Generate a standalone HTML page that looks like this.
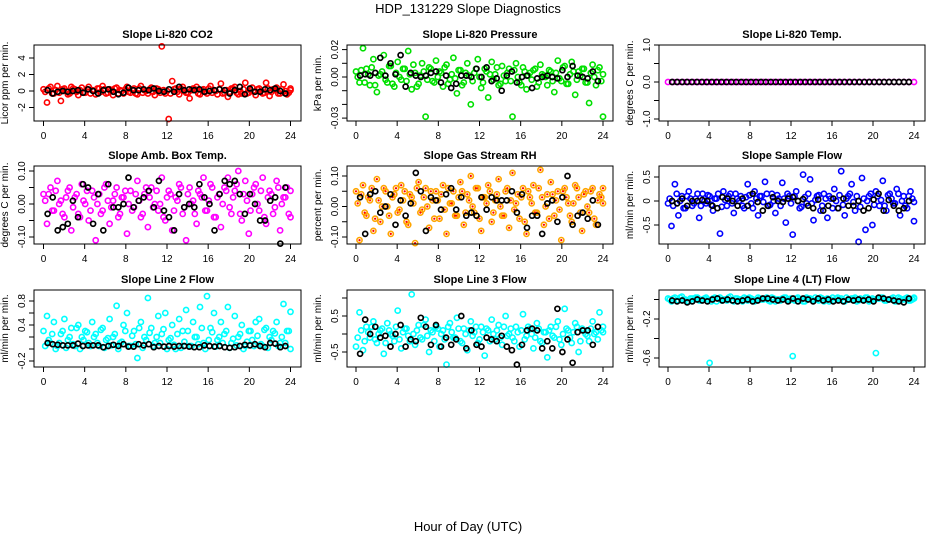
<!DOCTYPE html>
<html><head><meta charset="utf-8"><style>
html,body{margin:0;padding:0;background:#fff;}
svg{display:block;font-family:"Liberation Sans",Arial,sans-serif;}
</style></head><body>
<svg id="chart" width="936" height="540" viewBox="0 0 936 540" xmlns="http://www.w3.org/2000/svg">
<rect width="936" height="540" fill="#fff"/>
<text x="468" y="13" text-anchor="middle" font-size="13">HDP_131229  Slope Diagnostics</text>
<text x="468" y="531" text-anchor="middle" font-size="13">Hour of Day (UTC)</text>
</svg>
<script>
const xTicks = [0,4,8,12,16,20,24];
const co2Vals = [0.2,-1.4,0.5,-0.3,0.6,-1.2,0.3,-0.4,0.5,0.2,-0.5,0.4,-0.2,0.5,0.1,-0.4,0.3,0.6,-0.3,0.2,-0.5,0.4,0.1,-0.3,0.5,-0.2,0.3,-0.4,0.6,0.1,-0.3,0.4,-0.5,0.2,5.4,-0.3,-3.4,1.2,0.3,-0.4,0.5,-0.2,-0.9,0.3,0.5,-0.4,0.2,-0.3,0.6,0.1,-0.4,0.9,-0.2,-0.7,0.3,0.5,-0.4,-0.3,1.0,-0.2,0.4,-0.5,0.3,-0.3,1.0,-0.6,0.2,0.4,-0.3,0.8,-0.4,0.3];
const co2Core = [-0.1,0.3,-0.3,0.1,-0.2,0.2,0.0,-0.3,0.3,-0.1,0.1,-0.2,0.2,-0.3,0.0,0.3,-0.1,0.2,-0.2,0.1,0.3,-0.3,0.0,0.2,-0.1,0.1,-0.3,0.3,-0.2,0.0,0.2,-0.1,0.3,-0.2,0.1,0.0,-0.3,0.2,-0.1,0.3,0.0,-0.2,0.1,0.2,-0.3,0.1,-0.1,0.3,-0.2,0.0,0.2,-0.3,0.1,-0.1,0.3,-0.2,0.0,0.2,-0.3,0.1,-0.1,0.2,0.0,-0.2,0.3,-0.1,0.1,-0.3,0.2,0.0,-0.2,0.1];
const co2Black = [0.1,-0.3,-0.1,0,-0.1,0,0.1,-0.2,0.2,0,-0.3,0.1,0.2,-0.1,-0.4,-0.2,0.4,0.1,0.1,0.2,0.1,0.3,0,-0.1,0.2,-0.1,0.5,0.1,0.2,0.1,0.2,-0.1,0,0.1,0.2,0.1,-0.3,0.1,0.5,-0.4,0.3,-0.1,-0.1,0.2,0.1,0.3,0,-0.3];
const presVals = [0.004,-0.004,0.021,0.006,-0.006,0.013,-0.011,0.002,0.016,-0.004,0.008,-0.007,0.011,-0.002,0.006,0.019,-0.009,0.003,-0.005,0.010,-0.029,0.007,-0.003,0.012,0.004,-0.007,0.009,-0.002,0.014,-0.012,0.005,-0.004,0.010,-0.020,0.003,0.013,-0.008,0.006,-0.015,0.011,0.002,-0.006,0.008,-0.003,0.006,-0.029,0.010,-0.004,0.007,-0.009,0.003,0.005,-0.007,0.009,0.001,-0.006,0.004,-0.011,0.012,-0.003,0.008,-0.005,0.011,-0.013,0.004,0.006,-0.004,-0.019,0.009,-0.006,0.007,-0.029];
const presCore = [0.000,0.005,-0.004,0.002,0.007,-0.006,0.001,0.004,-0.002,0.008,-0.005,0.003,0.000,0.006,-0.003,0.002,0.009,-0.007,0.001,0.004,-0.002,0.006,-0.004,0.000,0.003,0.007,-0.005,0.002,-0.001,0.005,-0.006,0.003,0.001,-0.003,0.006,0.000,-0.004,0.004,0.002,-0.002,0.007,-0.005,0.001,0.003,-0.003,0.005,0.000,-0.006,0.004,0.001,-0.002,0.006,-0.004,0.002,0.000,0.005,-0.003,0.003,-0.001,0.007,-0.005,0.002,0.004,-0.002,0.001,0.006,-0.004,0.003,0.000,0.005,-0.003,0.002];
const presBlack = [0.001,0.002,0.001,0.003,0.014,0.001,0.010,0.002,0.016,-0.007,0.003,0.001,0.000,0.001,0.003,0.004,-0.004,0.001,-0.008,-0.005,0.001,0.001,0.000,0.006,0.000,0.007,-0.003,-0.001,-0.010,0.001,0.004,-0.004,0.000,0.001,-0.008,-0.001,0.000,0.001,0.000,-0.001,0.005,0.000,0.008,0.001,0.000,-0.001,0.004,-0.003];
const tempVals = [0,0,0,0,0,0,0,0,0,0,0,0,0,0,0,0,0,0,0,0,0,0,0,0,0,0,0,0,0,0,0,0,0,0,0,0,0,0,0,0,0,0,0,0,0,0,0,0,0,0];
const tempCore = [];
const tempBlack = [0,0,0,0,0,0,0,0,0,0,0,0,0,0,0,0,0,0,0,0,0,0,0,0,0,0,0,0,0,0,0,0,0,0,0,0,0,0,0,0,0,0,0,0,0,0,0,0,0];
const ambVals = [0.03,-0.06,0.05,-0.02,0.07,0.01,-0.04,0.04,-0.08,0.02,-0.03,0.06,0.00,-0.05,0.04,-0.11,0.03,-0.02,0.06,-0.06,0.01,0.05,-0.03,0.02,-0.09,0.04,-0.01,0.07,-0.04,0.03,-0.07,0.05,0.00,-0.02,0.08,-0.05,0.04,-0.08,0.02,0.06,-0.03,-0.11,0.05,0.01,-0.06,0.03,0.08,-0.02,0.06,-0.04,0.02,-0.07,0.05,0.08,-0.03,0.04,0.10,-0.05,0.07,-0.09,0.03,0.06,-0.02,0.08,-0.06,0.04,-0.03,0.07,-0.08,0.02,0.05,-0.04];
const ambCore = [0.01,0.03,-0.02,0.04,0.00,-0.03,0.02,0.05,-0.01,0.03,-0.04,0.01,0.04,-0.02,0.02,0.00,-0.03,0.05,0.01,-0.01,0.03,-0.04,0.02,0.04,0.00,-0.02,0.03,0.01,-0.03,0.05,0.02,-0.01,0.04,0.00,-0.04,0.02,0.03,-0.02,0.01,0.05,-0.01,0.03,0.00,-0.03,0.04,0.02,-0.02,0.01,0.05,-0.04,0.03,0.00,0.04,-0.01,0.02,0.06,-0.03,0.03,0.01,-0.02,0.05,0.00,0.04,-0.04,0.02,0.03,-0.01,0.05,0.00,0.02,-0.03,0.04];
const ambBlack = [-0.03,0.02,-0.08,-0.07,-0.06,0.01,-0.04,0.06,0.05,-0.06,0.03,-0.08,0.06,-0.01,-0.01,0.00,0.08,-0.01,0.01,0.02,0.04,-0.01,0.07,-0.02,-0.04,-0.08,0.03,-0.01,0.00,-0.01,0.06,0.02,0.00,-0.08,0.03,0.07,0.06,0.07,0.03,-0.03,0.03,0.00,-0.05,-0.05,0.01,0.02,-0.12,0.05];
const rhVals = [0.05,-0.11,0.07,-0.03,0.02,-0.08,0.09,-0.05,0.06,0.00,-0.09,0.04,-0.02,0.07,0.05,-0.06,0.03,-0.12,0.08,-0.01,0.06,-0.07,0.02,0.05,-0.04,0.07,-0.09,0.01,0.05,-0.03,0.08,-0.06,0.04,0.10,-0.02,0.06,-0.08,0.03,0.07,-0.05,0.02,0.09,-0.03,0.05,-0.07,0.11,0.01,-0.04,0.06,-0.09,0.03,0.07,-0.02,0.12,-0.06,0.04,0.08,-0.03,0.05,-0.11,0.06,0.01,-0.05,0.07,0.03,-0.08,0.05,-0.02,0.06,-0.06,0.04,0.06];
const rhCore = [0.01,0.04,-0.02,0.03,0.06,-0.04,0.02,0.00,0.05,-0.03,0.03,0.06,-0.01,0.02,-0.05,0.04,0.01,0.06,-0.02,0.03,0.00,0.05,-0.04,0.02,0.04,-0.01,0.06,0.01,-0.03,0.03,0.05,-0.02,0.02,0.00,0.06,-0.04,0.03,0.01,0.05,-0.02,0.04,0.00,-0.03,0.06,0.02,-0.01,0.04,0.03,-0.05,0.05,0.01,-0.02,0.06,0.03,0.00,-0.04,0.04,0.02,-0.01,0.05,0.03,-0.03,0.01,0.06,-0.02,0.04,0.00,0.05,-0.04,0.02,0.03,0.01];
const rhBlack = [0.03,-0.09,0.04,0.05,-0.02,0.00,0.04,-0.06,0.02,-0.03,0.01,0.11,0.05,-0.08,0.03,0.02,-0.01,0.04,0.06,-0.01,0.03,-0.03,-0.02,-0.03,0.03,-0.01,0.03,0.02,0.02,0.02,0.05,-0.02,0.04,-0.07,-0.03,-0.03,-0.09,0.01,0.02,-0.05,0.03,0.10,-0.06,-0.03,-0.02,-0.04,0.02,-0.06];
const sampleVals = [-0.05,-0.52,0.35,-0.3,0.1,-0.15,0.2,-0.1,0.05,-0.35,0.15,-0.05,0.1,-0.2,0.05,-0.68,0.2,-0.1,0.15,-0.25,0.05,0.1,-0.15,0.35,-0.05,0.2,-0.3,0.1,0.4,-0.1,0.15,-0.25,0.05,0.38,-0.45,0.1,-0.7,0.2,-0.15,0.55,-0.05,0.45,-0.4,0.1,-0.2,0.15,-0.35,0.05,0.25,-0.15,0.62,-0.3,0.1,0.35,-0.2,-0.85,0.48,-0.6,0.1,-0.5,0.2,-0.1,0.42,-0.2,0.15,-0.05,0.25,-0.3,0.1,-0.15,0.2,-0.42];
const sampleCore = [0.05,-0.1,0.15,0.0,-0.15,0.1,0.05,-0.05,0.15,-0.1,0.0,0.12,-0.08,0.05,0.15,-0.12,0.02,0.1,-0.05,0.15,0.0,-0.1,0.08,0.12,-0.15,0.05,0.1,-0.02,0.15,-0.08,0.0,0.12,-0.1,0.05,0.15,-0.05,0.1,0.0,-0.12,0.08,0.15,-0.05,0.02,0.12,-0.1,0.05,0.1,-0.15,0.0,0.12,-0.08,0.05,0.15,-0.02,0.1,-0.12,0.05,0.0,0.15,-0.08,0.1,0.02,-0.1,0.12,0.05,-0.05,0.15,0.0,-0.1,0.1,0.05,-0.02];
const sampleBlack = [0,-0.05,0.05,-0.1,0,0,0.02,0,-0.1,-0.15,0.08,0.05,0,-0.1,0.05,-0.1,0.15,-0.02,-0.2,-0.1,0.08,0,-0.02,0.05,0.08,0,0.04,-0.1,-0.15,0.03,-0.2,-0.1,0.05,-0.15,0.05,-0.1,-0.1,0,-0.2,-0.15,0.03,0.15,-0.2,0.02,-0.1,-0.2,-0.15,0];
const line2Vals = [0.3,0.55,0.1,0.45,0.05,0.25,0.5,0.15,0.35,0.05,0.4,0.2,0.3,0.1,0.45,0.25,0.05,0.35,0.15,0.5,0.2,0.72,0.1,0.4,0.6,0.05,0.3,-0.15,0.45,0.2,0.85,0.35,0.1,0.55,0.25,0.6,0.15,0.4,0.0,0.5,0.3,0.65,0.05,0.45,0.2,0.7,0.1,0.88,0.35,0.6,0.15,0.45,0.25,0.7,0.1,0.55,0.2,0.4,0.05,0.3,0.15,0.45,0.5,0.05,0.35,0.2,0.3,0.45,0.1,0.75,0.3,0.62];
const line2Core = [0.05,0.15,0.25,0.0,0.1,0.3,0.02,0.2,0.08,0.35,0.0,0.15,0.28,0.05,0.2,0.1,0.32,0.02,0.18,0.06,0.25,0.0,0.12,0.3,0.05,0.22,0.08,0.35,0.02,0.15,0.27,0.05,0.2,0.1,0.33,0.0,0.18,0.07,0.25,0.02,0.12,0.3,0.05,0.2,0.08,0.35,0.0,0.15,0.28,0.04,0.2,0.1,0.3,0.02,0.17,0.06,0.25,0.0,0.12,0.3,0.05,0.22,0.08,0.32,0.02,0.15,0.26,0.05,0.2,0.1,0.3,0.0];
const line2Black = [0.1,0.08,0.07,0.06,0.06,0.06,0.09,0.05,0.06,0.06,0.06,0.03,0.05,0.07,0.05,0.08,0.04,0.04,0.08,0.06,0.08,0.03,0.05,0.04,0.05,0.04,0.05,0.05,0.04,0.03,0.03,0.06,0.05,0.04,0.05,0.03,0.02,0.03,0.05,0.07,0.06,0.08,0.05,0.03,0.1,0.09,0.03,0.05];
const line3Vals = [-0.35,0.6,-0.45,0.2,-0.1,0.35,-0.25,0.1,-0.55,0.3,0.0,-0.2,0.65,-0.4,0.15,-0.05,1.1,-0.3,0.25,-0.15,0.4,-0.5,0.05,0.2,-0.35,0.1,-0.85,0.3,-0.1,0.45,-0.2,0.15,-0.45,0.35,0.05,-0.25,0.2,-0.6,0.1,0.4,-0.15,0.25,-0.3,0.5,0.0,-0.1,0.2,-0.35,0.55,-0.05,0.15,-0.4,0.3,-0.2,0.05,-0.65,0.2,-0.1,0.35,-0.3,0.7,0.1,-0.25,0.3,-0.5,0.15,0.0,-0.2,0.35,0.05,0.6,0.2];
const line3Core = [-0.1,0.1,-0.2,0.05,0.2,-0.15,0.0,0.15,-0.25,0.1,-0.05,0.2,-0.15,0.05,0.15,-0.2,0.0,0.1,-0.1,0.25,-0.05,0.1,-0.2,0.15,0.0,-0.15,0.2,0.05,-0.1,0.15,-0.25,0.0,0.1,-0.05,0.2,-0.15,0.05,0.15,-0.2,0.0,0.1,-0.1,0.2,-0.05,0.15,-0.2,0.05,0.1,-0.15,0.2,0.0,-0.1,0.15,-0.25,0.05,0.1,-0.05,0.2,-0.15,0.0,0.15,-0.1,0.05,0.2,-0.2,0.1,-0.05,0.15,0.0,-0.15,0.1,0.05];
const line3Black = [-0.55,0.4,0.0,0.2,-0.1,-0.05,-0.35,0.0,0.25,-0.35,-0.15,-0.2,0.45,0.2,-0.3,0.25,-0.35,-0.1,-0.3,-0.15,0.5,-0.4,0.1,-0.3,-0.35,-0.1,-0.15,-0.2,-0.05,-0.35,-0.45,-0.85,-0.3,0.1,0.15,0.1,-0.4,-0.2,-0.4,0.7,-0.5,-0.15,-0.8,0.05,0.1,0.1,-0.3,0.2];
const line4Vals = [0.01,-0.02,0.02,-0.01,0.03,0.0,-0.02,0.01,0.02,-0.01,0.0,0.02,-0.65,0.01,-0.02,0.02,0.0,-0.01,0.03,-0.02,0.01,0.0,0.02,-0.01,0.01,-0.02,0.02,0.0,0.01,-0.01,0.02,-0.02,0.0,0.01,0.02,-0.01,-0.58,0.01,0.0,-0.02,0.02,0.01,-0.01,0.0,0.02,-0.02,0.01,0.0,-0.01,0.02,0.01,-0.02,0.0,0.01,0.02,-0.01,0.0,0.02,-0.02,0.01,-0.55,0.01,0.02,-0.01,0.0,0.02,-0.02,0.01,0.0,0.02,-0.01,0.01];
const line4Core = [0.0,0.01,-0.01,0.02,0.0,-0.02,0.01,0.0,0.02,-0.01,0.01,0.0,-0.02,0.02,0.01,-0.01,0.0,0.02,-0.01,0.01,0.0,-0.02,0.01,0.02,0.0,-0.01,0.01,0.0,0.02,-0.02,0.01,0.0,-0.01,0.02,0.0,0.01,-0.01,0.02,0.0,-0.02,0.01,0.0,0.02,-0.01,0.01,0.0,-0.02,0.02,0.01,0.0,-0.01,0.02,0.0,0.01,-0.02,0.01,0.0,0.02,-0.01,0.0,0.01,0.02,-0.01,0.0,0.01,-0.02,0.02,0.0,0.01,-0.01,0.0,0.02];
const line4Black = [-0.01,-0.02,-0.01,-0.03,-0.02,0.0,-0.01,-0.02,0.0,0.01,-0.01,0.0,-0.01,-0.02,-0.01,0.0,-0.02,-0.01,0.01,0.01,0.0,-0.01,0.0,-0.02,0.01,-0.02,0.01,0.0,-0.02,0.01,-0.01,0.0,-0.02,-0.01,-0.02,0.0,-0.01,0.0,-0.01,0.0,-0.02,0.02,0.01,0.0,-0.01,-0.02,-0.03,0.01];

const co2Ticks = [-2,0,2,4];
const co2Labels = ["-2","0","2","4"];
const presTicks = [-0.03,-0.02,-0.01,0,0.01,0.02];
const presLabels = ["-0.03","","","0.00","","0.02"];
const tempTicks = [-1,-0.5,0,0.5,1];
const tempLabels = ["-1.0","","0.0","","1.0"];
const ambTicks = [-0.1,-0.05,0,0.05,0.1];
const ambLabels = ["-0.10","","0.00","","0.10"];
const rhTicks = [-0.1,-0.05,0,0.05,0.1];
const rhLabels = ["-0.10","","0.00","","0.10"];
const sampleTicks = [-0.5,0,0.5];
const sampleLabels = ["-0.5","0","0.5"];
const line2Ticks = [-0.2,0,0.2,0.4,0.6,0.8];
const line2Labels = ["-0.2","","","0.4","","0.8"];
const line3Ticks = [-0.5,0,0.5,1.0];
const line3Labels = ["-0.5","","0.5",""];
const line4Ticks = [-0.6,-0.4,-0.2,0];
const line4Labels = ["-0.6","","-0.2",""];

const NS = "http://www.w3.org/2000/svg";
const svg = document.getElementById("chart");
function mk(tag, attrs, parent){
  const e = document.createElementNS(NS, tag);
  for (const k in attrs) e.setAttribute(k, attrs[k]);
  (parent||svg).appendChild(e);
  return e;
}

const panels = [
 {key:"co2", title:"Slope Li-820 CO2", ylab:"Licor ppm per min.", box:[34,45,301,121], x0:43.5, x1:290.5, y0:91, ys:8.25, col:"#ff0000", vals:co2Vals, core:co2Core, blk:co2Black, ticks:co2Ticks, labels:co2Labels},
 {key:"pressure", title:"Slope Li-820 Pressure", ylab:"kPa per min.", box:[347,45,613,121], x0:356, x1:603, y0:77, ys:1370, col:"#00e000", vals:presVals, core:presCore, blk:presBlack, ticks:presTicks, labels:presLabels},
 {key:"temp", title:"Slope Li-820 Temp.", ylab:"degrees C per min.", box:[659,45,925,121], x0:668, x1:914, y0:82, ys:37, col:"#ff00ff", vals:tempVals, core:tempCore, blk:tempBlack, ticks:tempTicks, labels:tempLabels},
 {key:"amb-box-temp", title:"Slope Amb. Box Temp.", ylab:"degrees C per min.", box:[34,166,301,244], x0:43.5, x1:290.5, y0:204, ys:330, col:"#ff00ff", vals:ambVals, core:ambCore, blk:ambBlack, ticks:ambTicks, labels:ambLabels},
 {key:"rh", title:"Slope Gas Stream RH", ylab:"percent per min.", box:[347,166,613,244], x0:356, x1:603, y0:206.5, ys:305, col:"#ffa500", vals:rhVals, core:rhCore, blk:rhBlack, ticks:rhTicks, labels:rhLabels, dots:"#ff0000"},
 {key:"sample-flow", title:"Slope Sample Flow", ylab:"ml/min per min.", box:[659,166,925,244], x0:668, x1:914, y0:201, ys:48, col:"#0000ff", vals:sampleVals, core:sampleCore, blk:sampleBlack, ticks:sampleTicks, labels:sampleLabels},
 {key:"line2", title:"Slope Line 2 Flow", ylab:"ml/min per min.", box:[34,290,301,367], x0:43.5, x1:290.5, y0:349, ys:60, col:"#00ffff", vals:line2Vals, core:line2Core, blk:line2Black, ticks:line2Ticks, labels:line2Labels},
 {key:"line3", title:"Slope Line 3 Flow", ylab:"ml/min per min.", box:[347,290,613,367], x0:356, x1:603, y0:334, ys:36, col:"#00ffff", vals:line3Vals, core:line3Core, blk:line3Black, ticks:line3Ticks, labels:line3Labels},
 {key:"line4", title:"Slope Line 4 (LT) Flow", ylab:"ml/min per min.", box:[659,290,925,367], x0:668, x1:914, y0:299.5, ys:97.5, col:"#00ffff", vals:line4Vals, core:line4Core, blk:line4Black, ticks:line4Ticks, labels:line4Labels}
];

panels.forEach(p => {
  const g = mk("g", {});
  
  
  const xs = h => p.x0 + (p.x1 - p.x0) * h / 24;
  const ys = v => p.y0 - v * p.ys;
  const [L,T,R,B] = p.box;
  const t = mk("text", {x:(L+R)/2, y:T-7, "text-anchor":"middle", "font-size":"11", "font-weight":"bold"}, g);
  t.textContent = p.title;
  
  
  const cy = (T+B)/2;
  const yl = mk("text", {x:0, y:0, transform:`translate(${L-26},${cy}) rotate(-90)`, "text-anchor":"middle", "font-size":"10"}, g);
  yl.textContent = p.ylab;
  
  
  const pg = mk("g", {fill:"none"}, g);
  
  
  const drawSet = (arr, offset) => {
    arr.forEach((v,i) => {
      const h = Math.min(24, offset + i * 24 / (arr.length - 1));
      const c = mk("circle", {cx:xs(h).toFixed(1), cy:ys(v).toFixed(1), r:2.6, stroke:p.col, "stroke-width":1.6, fill:"none"}, pg);
      
      
      if (p.dots) {
        const d = mk("circle", {cx:xs(h).toFixed(1), cy:ys(v).toFixed(1), r:1.1, fill:p.dots}, pg);
        
        
      }
    });
  };
  drawSet(p.vals, 0);
  drawSet(p.core, 0.17);
  const bg = mk("g", {fill:"none"}, g);
  
  
  p.blk.forEach((v,i) => {
    const h = 0.4 + i * (23.5 - 0.4) / (p.blk.length - 1);
    const c = mk("circle", {cx:xs(h).toFixed(1), cy:ys(v).toFixed(1), r:2.5, stroke:"#000", "stroke-width":1.7, fill:"none"}, bg);
    
    
  });
  const bx = mk("rect", {x:L, y:T, width:R-L, height:B-T, fill:"none", stroke:"#000", "stroke-width":1}, g);
  
  
  const xa = mk("g", {}, g);
  
  
  mk("line", {x1:xs(xTicks[0]), x2:xs(xTicks[xTicks.length-1]), y1:B, y2:B, stroke:"#000"}, xa);
  xTicks.forEach(tk => {
    const ln = mk("line", {x1:xs(tk), x2:xs(tk), y1:B, y2:B+5, stroke:"#000"}, xa);
    
    
    const tl = mk("text", {x:xs(tk), y:B+18, "text-anchor":"middle", "font-size":"10"}, xa);
    tl.textContent = String(tk);
    
    
  });
  const ya = mk("g", {}, g);
  
  
  mk("line", {x1:L, x2:L, y1:ys(p.ticks[0]), y2:ys(p.ticks[p.ticks.length-1]), stroke:"#000"}, ya);
  p.ticks.forEach((tk,i) => {
    const ln = mk("line", {x1:L-5, x2:L, y1:ys(tk), y2:ys(tk), stroke:"#000"}, ya);
    
    
    if (p.labels[i]) {
      const tl = mk("text", {x:0, y:0, transform:`translate(${L-9},${ys(tk)}) rotate(-90)`, "text-anchor":"middle", "font-size":"10"}, ya);
      tl.textContent = p.labels[i];
      
      
    }
  });
});
</script>
</body></html>
